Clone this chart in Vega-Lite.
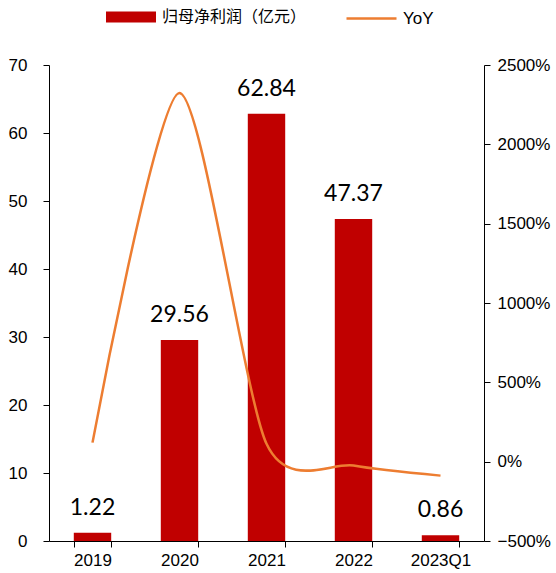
{
  "$schema": "https://vega.github.io/schema/vega-lite/v6.json",
  "width": 435,
  "height": 476,
  "autosize": {"type": "none"},
  "padding": {"left": 49, "top": 65, "right": 72, "bottom": 32},
  "background": "white",
  "config": {
    "view": {"stroke": null},
    "axis": {"grid": false, "domainColor": "black", "tickColor": "black", "labelColor": "black", "labelFont": "Liberation Sans", "labelFontSize": 17, "tickSize": 6, "domainWidth": 1, "tickWidth": 1}
  },
  "data": {
    "values": [
      {"year": "2019", "profit": 1.22, "yoy": 1.2},
      {"year": "2020", "profit": 29.56, "yoy": 23.23},
      {"year": "2021", "profit": 62.84, "yoy": 1.126},
      {"year": "2022", "profit": 47.37, "yoy": -0.246},
      {"year": "2023Q1", "profit": 0.86, "yoy": -0.88}
    ]
  },
  "encoding": {
    "x": {
      "field": "year", "type": "nominal", "sort": null, "title": null,
      "scale": {"paddingInner": 0.57, "paddingOuter": 0.285},
      "axis": {"labelAngle": 0, "tickBand": "extent", "labelPadding": 5, "title": null}
    }
  },
  "layer": [
    {
      "layer": [
        {
          "mark": {"type": "bar"},
          "encoding": {
            "y": {"field": "profit", "type": "quantitative", "title": null,
              "scale": {"domain": [0, 70], "nice": false},
              "axis": {"values": [0, 10, 20, 30, 40, 50, 60, 70], "labelPadding": 16, "title": null}},
            "fill": {"datum": "归母净利润（亿元）", "type": "nominal",
              "scale": {"range": ["#C00000"]},
              "legend": {"orient": "none", "legendX": 57, "legendY": -73, "title": null,
                "symbolType": "M-1,-0.22L1,-0.22L1,0.22L-1,0.22Z", "symbolSize": 2500,
                "symbolStrokeWidth": 0, "labelFont": "Noto Sans CJK SC", "labelFontSize": 16,
                "labelColor": "black", "labelOffset": 6, "padding": 0}}
          }
        },
        {
          "mark": {"type": "text", "baseline": "alphabetic", "dy": -18, "font": "Lato", "fontSize": 23, "color": "black"},
          "encoding": {
            "y": {"field": "profit", "type": "quantitative", "scale": {"domain": [0, 70], "nice": false}},
            "text": {"field": "profit", "type": "quantitative", "format": ".2f"}
          }
        }
      ]
    },
    {
      "mark": {"type": "line", "interpolate": "cardinal", "tension": 0.25, "strokeWidth": 2.5},
      "encoding": {
        "y": {"field": "yoy", "type": "quantitative", "title": null,
          "scale": {"domain": [-5, 25], "nice": false, "zero": false},
          "axis": {"orient": "right", "values": [-5, 0, 5, 10, 15, 20, 25], "format": ".0%", "labelPadding": 7, "title": null}},
        "stroke": {"datum": "YoY", "type": "nominal",
          "scale": {"range": ["#ED7D31"]},
          "legend": {"orient": "none", "legendX": 296, "legendY": -73, "title": null,
            "symbolType": "stroke", "symbolSize": 2500, "symbolStrokeWidth": 2.5,
            "labelFont": "Liberation Sans", "labelFontSize": 17, "labelColor": "black", "labelOffset": 5, "padding": 0}}
      }
    }
  ],
  "resolve": {"scale": {"y": "independent", "fill": "independent", "stroke": "independent"}}
}
